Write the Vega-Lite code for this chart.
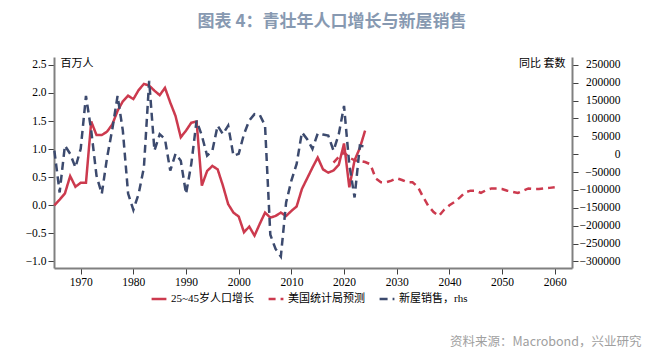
{
  "$schema": "https://vega.github.io/schema/vega-lite/v6.json",
  "autosize": {"type": "none"},
  "width": 518,
  "height": 211,
  "padding": {"left": 54, "top": 57, "right": 98, "bottom": 87},
  "background": "white",
  "title": {
    "text": "图表 4：青壮年人口增长与新屋销售",
    "font": "Noto Sans CJK SC",
    "fontSize": 17,
    "fontWeight": "bold",
    "color": "#8799b1",
    "anchor": "middle",
    "dx": 19,
    "offset": 26
  },
  "datasets": {
    "pop": [
      {"year": 1965, "v": 0.00}, {"year": 1966, "v": 0.10}, {"year": 1967, "v": 0.21}, {"year": 1968, "v": 0.52},
      {"year": 1969, "v": 0.33}, {"year": 1970, "v": 0.40}, {"year": 1971, "v": 0.40}, {"year": 1972, "v": 1.49},
      {"year": 1973, "v": 1.25}, {"year": 1974, "v": 1.25}, {"year": 1975, "v": 1.31}, {"year": 1976, "v": 1.44},
      {"year": 1977, "v": 1.68}, {"year": 1978, "v": 1.85}, {"year": 1979, "v": 1.95}, {"year": 1980, "v": 1.89},
      {"year": 1981, "v": 2.05}, {"year": 1982, "v": 2.16}, {"year": 1983, "v": 2.13}, {"year": 1984, "v": 2.04},
      {"year": 1985, "v": 1.96}, {"year": 1986, "v": 2.09}, {"year": 1987, "v": 1.83}, {"year": 1988, "v": 1.59},
      {"year": 1989, "v": 1.21}, {"year": 1990, "v": 1.33}, {"year": 1991, "v": 1.47}, {"year": 1992, "v": 1.49},
      {"year": 1993, "v": 0.35}, {"year": 1994, "v": 0.61}, {"year": 1995, "v": 0.70}, {"year": 1996, "v": 0.64},
      {"year": 1997, "v": 0.35}, {"year": 1998, "v": 0.02}, {"year": 1999, "v": -0.13}, {"year": 2000, "v": -0.20},
      {"year": 2001, "v": -0.48}, {"year": 2002, "v": -0.38}, {"year": 2003, "v": -0.54}, {"year": 2004, "v": -0.33},
      {"year": 2005, "v": -0.13}, {"year": 2006, "v": -0.22}, {"year": 2007, "v": -0.19}, {"year": 2008, "v": -0.13},
      {"year": 2009, "v": -0.19}, {"year": 2010, "v": -0.10}, {"year": 2011, "v": -0.02}, {"year": 2012, "v": 0.29},
      {"year": 2013, "v": 0.48}, {"year": 2014, "v": 0.67}, {"year": 2015, "v": 0.85}, {"year": 2016, "v": 0.64},
      {"year": 2017, "v": 0.58}, {"year": 2018, "v": 0.62}, {"year": 2019, "v": 0.72}, {"year": 2020, "v": 1.10},
      {"year": 2021, "v": 0.32}, {"year": 2022, "v": 0.80}, {"year": 2023, "v": 1.02}, {"year": 2024, "v": 1.33}
    ],
    "proj": [
      {"year": 2018, "v": 0.76}, {"year": 2019, "v": 0.86}, {"year": 2020, "v": 0.94}, {"year": 2021, "v": 0.85},
      {"year": 2022, "v": 0.80}, {"year": 2023, "v": 0.79}, {"year": 2024, "v": 0.77}, {"year": 2025, "v": 0.73},
      {"year": 2026, "v": 0.48}, {"year": 2027, "v": 0.41}, {"year": 2028, "v": 0.41}, {"year": 2029, "v": 0.44},
      {"year": 2030, "v": 0.48}, {"year": 2031, "v": 0.45}, {"year": 2032, "v": 0.41}, {"year": 2033, "v": 0.41},
      {"year": 2034, "v": 0.33}, {"year": 2035, "v": 0.15}, {"year": 2036, "v": -0.01}, {"year": 2037, "v": -0.12},
      {"year": 2038, "v": -0.19}, {"year": 2039, "v": -0.08}, {"year": 2040, "v": 0.00}, {"year": 2041, "v": 0.06},
      {"year": 2042, "v": 0.14}, {"year": 2043, "v": 0.23}, {"year": 2044, "v": 0.26}, {"year": 2045, "v": 0.26},
      {"year": 2046, "v": 0.22}, {"year": 2047, "v": 0.27}, {"year": 2048, "v": 0.30}, {"year": 2049, "v": 0.30},
      {"year": 2050, "v": 0.29}, {"year": 2051, "v": 0.26}, {"year": 2052, "v": 0.24}, {"year": 2053, "v": 0.22},
      {"year": 2054, "v": 0.26}, {"year": 2055, "v": 0.30}, {"year": 2056, "v": 0.29}, {"year": 2057, "v": 0.29},
      {"year": 2058, "v": 0.30}, {"year": 2059, "v": 0.31}, {"year": 2060, "v": 0.32}
    ],
    "sales": [
      {"year": 1965, "v": 10000}, {"year": 1966, "v": -107000}, {"year": 1967, "v": 24000}, {"year": 1968, "v": 1000},
      {"year": 1969, "v": -37000}, {"year": 1970, "v": 15000}, {"year": 1971, "v": 163000}, {"year": 1972, "v": 66000},
      {"year": 1973, "v": -60000}, {"year": 1974, "v": -111000}, {"year": 1975, "v": -10000}, {"year": 1976, "v": 70000},
      {"year": 1977, "v": 163000}, {"year": 1978, "v": 66000}, {"year": 1979, "v": -110000}, {"year": 1980, "v": -156000},
      {"year": 1981, "v": -111000}, {"year": 1982, "v": -37000}, {"year": 1983, "v": 205000}, {"year": 1984, "v": 10000},
      {"year": 1985, "v": 56000}, {"year": 1986, "v": 42000}, {"year": 1987, "v": -46000}, {"year": 1988, "v": 1000},
      {"year": 1989, "v": -18000}, {"year": 1990, "v": -111000}, {"year": 1991, "v": -27000}, {"year": 1992, "v": 94000},
      {"year": 1993, "v": 52000}, {"year": 1994, "v": -4000}, {"year": 1995, "v": 10000}, {"year": 1996, "v": 80000},
      {"year": 1997, "v": 56000}, {"year": 1998, "v": 80000}, {"year": 1999, "v": -4000}, {"year": 2000, "v": 1000},
      {"year": 2001, "v": 56000}, {"year": 2002, "v": 94000}, {"year": 2003, "v": 112000}, {"year": 2004, "v": 110000},
      {"year": 2005, "v": 80000}, {"year": 2006, "v": -225000}, {"year": 2007, "v": -265000}, {"year": 2008, "v": -286000},
      {"year": 2009, "v": -135000}, {"year": 2010, "v": -74000}, {"year": 2011, "v": -27000}, {"year": 2012, "v": 61000},
      {"year": 2013, "v": 42000}, {"year": 2014, "v": 15000}, {"year": 2015, "v": 58000}, {"year": 2016, "v": 55000},
      {"year": 2017, "v": 52000}, {"year": 2018, "v": 10000}, {"year": 2019, "v": 56000}, {"year": 2020, "v": 135000},
      {"year": 2021, "v": -30000}, {"year": 2022, "v": -121000}, {"year": 2023, "v": 24000}, {"year": 2024, "v": 21000}
    ]
  },
  "layer": [
    {
      "layer": [
        {
          "data": {"name": "pop"},
          "transform": [{"calculate": "'25~45岁人口增长'", "as": "s"}],
          "mark": {"type": "line", "strokeWidth": 2.5, "strokeCap": "butt"},
          "encoding": {}
        },
        {
          "data": {"name": "proj"},
          "transform": [{"calculate": "'美国统计局预测'", "as": "s"}],
          "mark": {"type": "line", "strokeWidth": 2.5, "strokeCap": "butt"},
          "encoding": {}
        }
      ],
      "encoding": {
        "x": {"field": "year", "type": "quantitative"},
        "y": {
          "field": "v", "type": "quantitative",
          "scale": {"domain": [-1.116, 2.639], "nice": false, "zero": false},
          "axis": {
            "orient": "left",
            "values": [-1, -0.5, 0, 0.5, 1, 1.5, 2, 2.5],
            "format": ".1f",
            "title": "百万人",
            "titleAngle": 0, "titleAlign": "left", "titleBaseline": "middle",
            "titleX": 6, "titleY": 6,
            "titleFont": "Noto Sans CJK SC", "titleFontSize": 11, "titleFontWeight": "normal", "titleColor": "#000"
          }
        },
        "color": {"field": "s", "type": "nominal"},
        "strokeDash": {"field": "s", "type": "nominal"}
      }
    },
    {
      "data": {"name": "sales"},
      "transform": [{"calculate": "'新屋销售，rhs'", "as": "s"}],
      "mark": {"type": "line", "strokeWidth": 2.5, "strokeCap": "butt"},
      "encoding": {
        "x": {"field": "year", "type": "quantitative"},
        "y": {
          "field": "v", "type": "quantitative",
          "scale": {"domain": [-318200, 271800], "nice": false, "zero": false},
          "axis": {
            "orient": "right",
            "values": [-300000, -250000, -200000, -150000, -100000, -50000, 0, 50000, 100000, 150000, 200000, 250000],
            "format": "d",
            "labelAlign": "right",
            "labelPadding": 42,
            "title": "同比 套数",
            "titleAngle": 0, "titleAlign": "right", "titleBaseline": "middle",
            "titleX": -7, "titleY": 6,
            "titleFont": "Noto Sans CJK SC", "titleFontSize": 11, "titleFontWeight": "normal", "titleColor": "#000"
          }
        },
        "color": {"field": "s", "type": "nominal"},
        "strokeDash": {"field": "s", "type": "nominal"}
      }
    }
  ],
  "encoding": {
    "x": {
      "field": "year", "type": "quantitative",
      "scale": {"domain": [1964.93, 2063.28], "nice": false, "zero": false},
      "axis": {
        "values": [1970, 1980, 1990, 2000, 2010, 2020, 2030, 2040, 2050, 2060],
        "format": "d",
        "labelPadding": 2,
        "title": "资料来源：Macrobond，兴业研究",
        "titleAlign": "right", "titleBaseline": "middle",
        "titleX": 587, "titleY": 73,
        "titleFont": "Noto Sans CJK SC", "titleFontSize": 12.5, "titleFontWeight": "normal", "titleColor": "#a0a0a0"
      }
    },
    "color": {
      "field": "s", "type": "nominal",
      "scale": {"domain": ["25~45岁人口增长", "美国统计局预测", "新屋销售，rhs"], "range": ["#cc3a4e", "#cc3a4e", "#3c4a6e"]}
    },
    "strokeDash": {
      "field": "s", "type": "nominal",
      "scale": {"domain": ["25~45岁人口增长", "美国统计局预测", "新屋销售，rhs"], "range": [[1, 0], [7, 5], [8, 5]]}
    }
  },
  "resolve": {"scale": {"y": "independent"}},
  "config": {
    "view": {"stroke": null},
    "axis": {
      "grid": false,
      "domainColor": "#808080",
      "domainWidth": 2,
      "tickColor": "#404040",
      "tickSize": 6,
      "tickWidth": 1,
      "labelFont": "Liberation Serif",
      "labelFontSize": 11.5,
      "labelColor": "#000"
    },
    "legend": {
      "orient": "none",
      "legendX": 96,
      "legendY": 233,
      "direction": "horizontal",
      "columns": 3,
      "columnPadding": 9,
      "symbolType": "stroke",
      "symbolSize": 220,
      "symbolStrokeWidth": 2.5,
      "labelFont": "'Liberation Serif', 'Noto Sans CJK SC'",
      "labelFontSize": 11,
      "labelColor": "#000",
      "labelOffset": 3,
      "title": null
    }
  }
}
